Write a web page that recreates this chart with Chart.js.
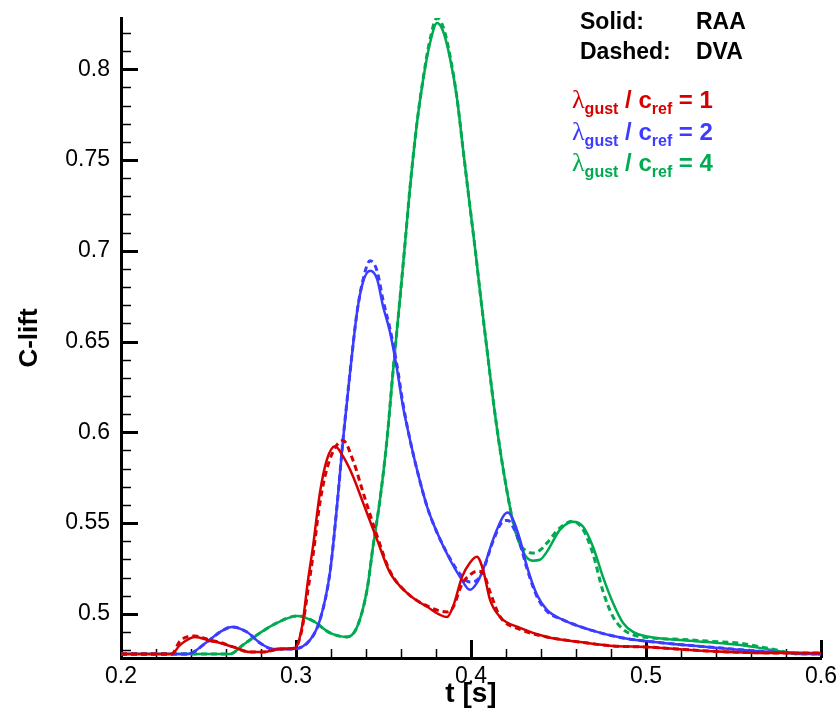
<!DOCTYPE html>
<html>
<head>
<meta charset="utf-8">
<script src="https://cdn.jsdelivr.net/npm/chart.js@4.4.0/dist/chart.umd.min.js"></script>
<style>
  body { margin: 0; background: #fff; }
  #wrap { position: relative; width: 840px; height: 717px; }
  .note { position: absolute; font-family: 'Liberation Sans', Arial, sans-serif; font-weight: bold; white-space: nowrap; }
  .key { font-size: 23px; line-height: 1; }
  .lam { position: absolute; left: 572px; font-family: 'Liberation Sans', Arial, sans-serif; font-weight: bold; font-size: 24px; line-height: 1; white-space: nowrap; }
  .lam .gr { font-family: 'Liberation Serif', 'Times New Roman', serif; font-weight: normal; font-size: 26px; }
  .lam sub { font-size: 16px; vertical-align: -6px; line-height: 0; }
</style>
</head>
<body>
<div id="wrap">
  <canvas id="clift_chart" width="840" height="717"></canvas>
  <div class="note key" style="left:580px; top:10px;">Solid:</div>
  <div class="note key" style="left:696px; top:10px;">RAA</div>
  <div class="note key" style="left:580px; top:40px;">Dashed:</div>
  <div class="note key" style="left:696px; top:40px;">DVA</div>
  <div class="lam" style="top:87px; color:rgb(215,0,0);"><span class="gr">λ</span><sub>gust</sub> / c<sub>ref</sub> = 1</div>
  <div class="lam" style="top:119px; color:rgb(60,60,255);"><span class="gr">λ</span><sub>gust</sub> / c<sub>ref</sub> = 2</div>
  <div class="lam" style="top:150px; color:rgb(0,170,80);"><span class="gr">λ</span><sub>gust</sub> / c<sub>ref</sub> = 4</div>
</div>
<script>
// data

const tRed = [0.2, 0.229, 0.2337, 0.2423, 0.2509, 0.2566, 0.264, 0.2737, 0.2811, 0.2909, 0.2994,
    0.3034, 0.3069, 0.3097, 0.3137, 0.3177, 0.3223, 0.3269, 0.3326, 0.3383, 0.3463, 0.3537, 0.3634,
    0.3749, 0.3863, 0.3897, 0.3949, 0.3994, 0.4034, 0.4069, 0.4109, 0.4166, 0.428, 0.4434, 0.4623,
    0.4811, 0.4994, 0.5349, 0.5726, 0.6];
const clRedRAA = [0.4779, 0.4779, 0.4829, 0.4873, 0.4851, 0.484, 0.4818, 0.479, 0.479, 0.4807, 0.4812,
    0.4928, 0.5188, 0.537, 0.5669, 0.5851, 0.5923, 0.5867, 0.5757, 0.5613, 0.5409, 0.5227, 0.5116,
    0.5039, 0.4983, 0.5039, 0.5204, 0.5282, 0.5315, 0.5243, 0.5077, 0.4983, 0.4923, 0.4873, 0.4845,
    0.4823, 0.4818, 0.4796, 0.4785, 0.4785];
const clRedDVA = [0.4779, 0.4779, 0.4851, 0.4878, 0.4856, 0.4843, 0.4818, 0.479, 0.479, 0.4807, 0.4812,
    0.4915, 0.5135, 0.532, 0.5615, 0.58, 0.5915, 0.5955, 0.5845, 0.567, 0.543, 0.5235, 0.5116,
    0.5044, 0.5011, 0.5035, 0.5165, 0.5215, 0.5235, 0.5225, 0.512, 0.4985, 0.4915, 0.4873, 0.4845,
    0.4823, 0.4818, 0.4796, 0.4785, 0.4785];

const tBlue = [0.2, 0.238, 0.2491, 0.2566, 0.2634, 0.272, 0.2794, 0.2869, 0.2983, 0.308, 0.3137,
    0.3194, 0.3234, 0.3269, 0.3309, 0.3349, 0.3383, 0.3423, 0.3463, 0.3497, 0.3537, 0.3577, 0.3611,
    0.3651, 0.3691, 0.3749, 0.3806, 0.388, 0.3937, 0.3994, 0.4034, 0.4069, 0.4126, 0.4183, 0.4211,
    0.424, 0.428, 0.432, 0.4377, 0.4434, 0.4526, 0.468, 0.4869, 0.5097, 0.5349, 0.5726, 0.6];
const clBlueRAA = [0.4779, 0.4779, 0.4845, 0.49, 0.4928, 0.49, 0.484, 0.4807, 0.4807, 0.4856, 0.4967,
    0.5227, 0.5591, 0.5961, 0.6331, 0.6663, 0.6829, 0.689, 0.6845, 0.6696, 0.6552, 0.6348, 0.6144,
    0.5961, 0.5796, 0.5591, 0.5448, 0.5298, 0.5204, 0.5133, 0.5171, 0.5243, 0.5409, 0.5536, 0.5558,
    0.5519, 0.5409, 0.526, 0.5105, 0.5022, 0.4967, 0.4912, 0.4867, 0.484, 0.4818, 0.479, 0.4779];
const clBlueDVA = [0.4779, 0.4779, 0.4845, 0.49, 0.4928, 0.49, 0.484, 0.4807, 0.4807, 0.4856, 0.4967,
    0.5227, 0.5591, 0.5961, 0.6331, 0.6663, 0.684, 0.6945, 0.689, 0.673, 0.657, 0.637, 0.616,
    0.5961, 0.5796, 0.5591, 0.5448, 0.5305, 0.522, 0.5175, 0.5185, 0.524, 0.54, 0.551, 0.5515,
    0.548, 0.5385, 0.525, 0.5095, 0.5015, 0.4967, 0.4912, 0.4867, 0.484, 0.4818, 0.479, 0.4779];

const tGreen = [0.2, 0.2623, 0.2697, 0.2794, 0.2891, 0.3006, 0.3097, 0.3194, 0.3291, 0.3349, 0.3406,
    0.344, 0.348, 0.352, 0.3554, 0.3594, 0.3623, 0.3651, 0.3691, 0.3726, 0.3766, 0.3806, 0.384,
    0.388, 0.392, 0.3954, 0.3994, 0.4029, 0.4051, 0.4091, 0.4126, 0.4166, 0.4206, 0.424, 0.428,
    0.432, 0.4354, 0.4394, 0.4434, 0.4509, 0.4583, 0.464, 0.4697, 0.4754, 0.4811, 0.4869, 0.4926,
    0.5023, 0.5194, 0.5349, 0.5537, 0.5726, 0.588, 0.6];
const clGreenRAA = [0.4779, 0.4779, 0.4829, 0.4895, 0.495, 0.4989, 0.4961, 0.4895, 0.4873, 0.4928, 0.5133,
    0.537, 0.563, 0.5961, 0.6331, 0.6735, 0.7039, 0.7343, 0.7702, 0.7939, 0.8144, 0.8254, 0.821,
    0.8061, 0.784, 0.7564, 0.7243, 0.6967, 0.6779, 0.6459, 0.6182, 0.5906, 0.5674, 0.5508, 0.5381,
    0.5309, 0.5293, 0.5298, 0.5343, 0.5464, 0.5508, 0.5481, 0.537, 0.5204, 0.5061, 0.495, 0.4901,
    0.4873, 0.4856, 0.4845, 0.4829, 0.4801, 0.4779, 0.4779];
const clGreenDVA = [0.4779, 0.4779, 0.4829, 0.4895, 0.495, 0.4989, 0.4961, 0.4895, 0.4873, 0.4928, 0.5133,
    0.537, 0.563, 0.5961, 0.6331, 0.6735, 0.7039, 0.7343, 0.7702, 0.7945, 0.8165, 0.8282, 0.8235,
    0.8075, 0.784, 0.7564, 0.7243, 0.6967, 0.6779, 0.6459, 0.6182, 0.5906, 0.5674, 0.5508, 0.5385,
    0.5345, 0.5335, 0.535, 0.539, 0.5475, 0.551, 0.5465, 0.533, 0.5125, 0.4985, 0.4915, 0.4885,
    0.4868, 0.486, 0.485, 0.4838, 0.4805, 0.4779, 0.4779];

const xMajorTicks = [0.2, 0.3, 0.4, 0.5, 0.6];
const yMajorTicks = [0.5, 0.55, 0.6, 0.65, 0.7, 0.75, 0.8];
const xMinorStep = 0.02;
const yMinorStep = 0.01;

const red = 'rgb(215,0,0)';
const blue = 'rgb(60,60,255)';
const green = 'rgb(0,170,80)';

const toPoints = function(xs, ys) {
    return xs.map((x, i) => ({ x: x, y: ys[i] }));
}

const makeLine = function(label, xs, ys, color, dashed) {
    return {
        label: label,
        data: toPoints(xs, ys),
        borderColor: color,
        borderWidth: dashed ? 3 : 2.5,
        borderDash: dashed ? [6, 4] : [],
        pointRadius: 0,
        cubicInterpolationMode: 'monotone',
        fill: false
    };
}

// inward tick marks, like the original plot
const innerTicks = {
    id: 'innerTicks',
    beforeDatasetsDraw(chart) {
        const ctx = chart.ctx;
        const xs = chart.scales.x;
        const ys = chart.scales.y;
        const area = chart.chartArea;
        ctx.save();
        ctx.strokeStyle = '#000';
        for (let v = xs.min; v <= xs.max + 1e-9; v += xMinorStep) {
            const major = xMajorTicks.some(m => Math.abs(m - v) < 1e-6);
            const px = Math.round(xs.getPixelForValue(v)) + 0.5;
            ctx.lineWidth = major ? 3 : 1.5;
            ctx.beginPath();
            ctx.moveTo(px, area.bottom);
            ctx.lineTo(px, area.bottom - (major ? 18 : 9));
            ctx.stroke();
        }
        for (let v = 0.48; v <= ys.max + 1e-9; v += yMinorStep) {
            const major = yMajorTicks.some(m => Math.abs(m - v) < 1e-6);
            const py = Math.round(ys.getPixelForValue(v)) + 0.5;
            ctx.lineWidth = major ? 3 : 1.5;
            ctx.beginPath();
            ctx.moveTo(area.left, py);
            ctx.lineTo(area.left + (major ? 17 : 10), py);
            ctx.stroke();
        }
        ctx.restore();
    }
}

const ctx = document.getElementById('clift_chart').getContext('2d');
const cliftChart = new Chart(ctx, {
    type: 'line',
    data: {
        datasets: [
            makeLine('RAA 1', tRed, clRedRAA, red, false),
            makeLine('DVA 1', tRed, clRedDVA, red, true),
            makeLine('RAA 2', tBlue, clBlueRAA, blue, false),
            makeLine('DVA 2', tBlue, clBlueDVA, blue, true),
            makeLine('RAA 4', tGreen, clGreenRAA, green, false),
            makeLine('DVA 4', tGreen, clGreenDVA, green, true)
        ]
    },
    options: {
        responsive: false,
        animation: false,
        layout: { padding: { left: 0, top: 18, right: 19, bottom: 0 } },
        plugins: {
            legend: { display: false },
            tooltip: { enabled: false }
        },
        scales: {
            x: {
                type: 'linear',
                min: 0.2,
                max: 0.6,
                afterBuildTicks: function(scale) {
                    scale.ticks = xMajorTicks.map(v => ({ value: v }));
                },
                afterFit: function(scale) {
                    scale.height = 59;
                    scale.paddingLeft = 0;
                    scale.paddingRight = 0;
                },
                grid: { display: false, drawTicks: false },
                border: { display: true, color: '#000', width: 3 },
                ticks: {
                    color: '#000',
                    padding: 5,
                    maxRotation: 0,
                    autoSkip: false,
                    font: { family: "'Liberation Sans', Arial, sans-serif", size: 23 },
                    callback: function(value) { return String(+value.toFixed(2)); }
                },
                title: {
                    display: true,
                    text: 't [s]',
                    color: '#000',
                    padding: { top: 0, bottom: 6 },
                    font: { family: "'Liberation Sans', Arial, sans-serif", size: 28, weight: 'bold' }
                }
            },
            y: {
                type: 'linear',
                min: 0.4757,
                max: 0.8282,
                afterBuildTicks: function(scale) {
                    scale.ticks = yMajorTicks.map(v => ({ value: v }));
                },
                afterFit: function(scale) {
                    scale.width = 121;
                    scale.paddingTop = 0;
                    scale.paddingBottom = 0;
                },
                grid: { display: false, drawTicks: false },
                border: { display: true, color: '#000', width: 3 },
                ticks: {
                    color: '#000',
                    padding: 11,
                    autoSkip: false,
                    font: { family: "'Liberation Sans', Arial, sans-serif", size: 23 },
                    callback: function(value) { return String(+value.toFixed(2)); }
                },
                title: {
                    display: true,
                    text: 'C-lift',
                    color: '#000',
                    padding: { top: 14, bottom: 0 },
                    font: { family: "'Liberation Sans', Arial, sans-serif", size: 26, weight: 'bold' }
                }
            }
        }
    },
    plugins: [innerTicks]
});
</script>
</body>
</html>
